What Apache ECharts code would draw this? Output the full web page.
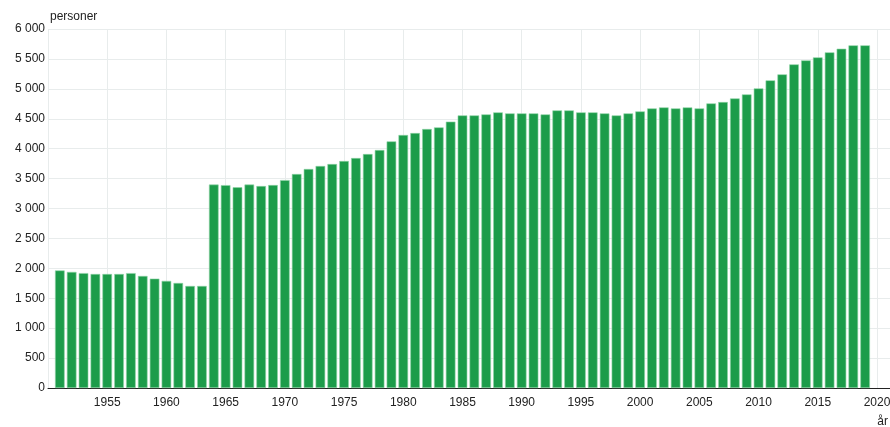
<!DOCTYPE html>
<html>
<head>
<meta charset="utf-8">
<script src="https://cdn.jsdelivr.net/npm/echarts@6/dist/echarts.min.js"></script>
<style>
html,body{margin:0;padding:0;background:#fff;}
#chart{width:890px;height:427px;}
</style>
</head>
<body>
<div id="chart"></div>
<script>
var years = [1951,1952,1953,1954,1955,1956,1957,1958,1959,1960,
1961,1962,1963,1964,1965,1966,1967,1968,1969,1970,
1971,1972,1973,1974,1975,1976,1977,1978,1979,1980,
1981,1982,1983,1984,1985,1986,1987,1988,1989,1990,
1991,1992,1993,1994,1995,1996,1997,1998,1999,2000,
2001,2002,2003,2004,2005,2006,2007,2008,2009,2010,
2011,2012,2013,2014,2015,2016,2017,2018,2019];
var personer = [1965,1940,1920,1905,1905,1905,1920,1872,1828,1790,
1755,1705,1705,3400,3390,3355,3400,3375,3392,3475,
3576,3660,3710,3743,3793,3843,3910,3977,4122,4228,
4261,4328,4356,4452,4556,4556,4573,4607,4590,4590,
4590,4573,4640,4640,4607,4607,4590,4556,4590,4623,
4673,4690,4673,4690,4673,4757,4779,4840,4907,5008,
5142,5242,5409,5476,5526,5610,5670,5727,5727];
var yTicks = [0,500,1000,1500,2000,2500,3000,3500,4000,4500,5000,5500,6000];

var seriesData = years.map(function(y,i){ return [y, personer[i]]; });
function fmt(v){ return String(v).replace(/\B(?=(\d{3})+(?!\d))/g,' '); }

var chart = echarts.init(document.getElementById('chart'), null, {renderer:'canvas'});
chart.setOption({
  animation:false,
  textStyle:{fontFamily:'Liberation Sans, Arial, sans-serif'},
  grid:{left:48,right:0,top:29,bottom:39,containLabel:false,outerBoundsMode:'none'},
  xAxis:{
    type:'value',
    min:1950, max:2021.1, interval:5,
    name:'år', nameLocation:'end', nameGap:0,
    nameTextStyle:{color:'#222',fontSize:12,align:'right',verticalAlign:'top',padding:[28,2,0,0]},
    axisLine:{show:true,lineStyle:{color:'#222',width:1}},
    axisTick:{show:false},
    axisLabel:{color:'#222',fontSize:12,margin:9,
      formatter:function(v){ return (v===1950 || v%5!==0) ? '' : String(v); }},
    splitLine:{show:true,lineStyle:{color:'#e8ecec',width:1}}
  },
  yAxis:{
    type:'value',
    min:yTicks[0], max:yTicks[yTicks.length-1], interval:500,
    name:'personer', nameLocation:'end', nameGap:6,
    nameTextStyle:{color:'#222',fontSize:12,align:'left',padding:[0,0,0,2]},
    axisLine:{show:false},
    axisTick:{show:false},
    axisLabel:{color:'#222',fontSize:12,margin:3,formatter:fmt},
    splitLine:{show:true,lineStyle:{color:'#e8ecec',width:1}}
  },
  series:[{
    type:'bar',
    data:seriesData,
    barWidth:9.6,
    itemStyle:{color:'#1c9c4a',borderColor:'#8fd4a6',borderWidth:0.6}
  }]
});
</script>
</body>
</html>
